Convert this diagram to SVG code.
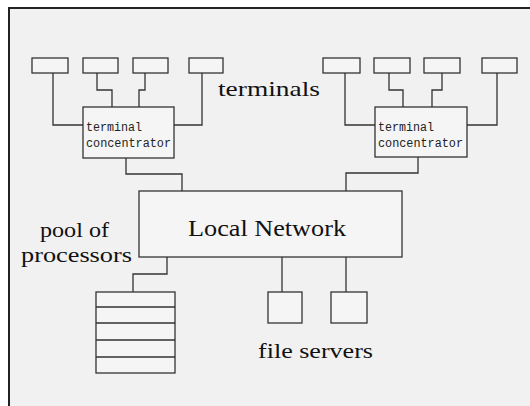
<svg xmlns="http://www.w3.org/2000/svg" width="530" height="406" viewBox="0 0 530 406">
<style>
.bg{fill:#f1f1f1}
.frame{fill:none;stroke:#222;stroke-width:2}
.box{fill:#f5f5f5;stroke:#333;stroke-width:1.3}
.ln{fill:none;stroke:#333;stroke-width:1.3}
.mono{font-family:"Liberation Mono","DejaVu Sans Mono",monospace;font-size:12.5px;fill:#222}
.serif{font-family:"Liberation Serif","DejaVu Serif",serif;fill:#111}
</style>
<rect x="0" y="0" width="530" height="406" fill="#fff"/>
<rect class="bg" x="9" y="8" width="530" height="410"/>
<path class="frame" d="M9,406 V8 H530"/>
<g id="connectors">
<path class="ln" d="M53,73 V125 H83"/>
<path class="ln" d="M97,73 V90 H112 V107"/>
<path class="ln" d="M145,73 V90 H139 V107"/>
<path class="ln" d="M202,73 V125 H174"/>
<path class="ln" d="M345,73 V125 H375"/>
<path class="ln" d="M389,73 V90 H403 V107"/>
<path class="ln" d="M442,73 V90 H432 V107"/>
<path class="ln" d="M497,73 V125 H467"/>
<path class="ln" d="M126,158 V174 H182 V191"/>
<path class="ln" d="M418,157 V173 H346 V191"/>
<path class="ln" d="M167,257 V274 H133 V292"/>
<path class="ln" d="M282,257 V292"/>
<path class="ln" d="M346,257 V292"/>
</g>
<g id="t1"><rect class="box" x="32" y="58" width="36" height="15"/></g>
<g id="t2"><rect class="box" x="83" y="58" width="35" height="15"/></g>
<g id="t3"><rect class="box" x="133" y="58" width="35" height="15"/></g>
<g id="t4"><rect class="box" x="189" y="58" width="34" height="15"/></g>
<g id="t5"><rect class="box" x="323" y="58" width="37" height="15"/></g>
<g id="t6"><rect class="box" x="374" y="58" width="36" height="15"/></g>
<g id="t7"><rect class="box" x="424" y="58" width="36" height="15"/></g>
<g id="t8"><rect class="box" x="482" y="58" width="35" height="15"/></g>
<g id="conc1">
<rect class="box" x="83" y="107" width="91" height="51"/>
<text class="mono" x="86" y="131" textLength="56" lengthAdjust="spacingAndGlyphs">terminal</text>
<text class="mono" x="86" y="147" textLength="85" lengthAdjust="spacingAndGlyphs">concentrator</text>
</g>
<g id="conc2">
<rect class="box" x="375" y="107" width="92" height="50"/>
<text class="mono" x="378" y="131" textLength="56" lengthAdjust="spacingAndGlyphs">terminal</text>
<text class="mono" x="378" y="147" textLength="85" lengthAdjust="spacingAndGlyphs">concentrator</text>
</g>
<g id="network">
<rect class="box" x="139" y="191" width="263" height="66"/>
<text class="serif" x="188" y="236" font-size="23" textLength="158" lengthAdjust="spacingAndGlyphs">Local Network</text>
</g>
<g id="processors">
<rect class="box" x="96" y="292" width="79" height="81"/>
<path class="ln" d="M96,307 H175 M96,323 H175 M96,340 H175 M96,357 H175"/>
</g>
<g id="fs1"><rect class="box" x="268" y="292" width="34" height="31"/></g>
<g id="fs2"><rect class="box" x="331" y="292" width="36" height="31"/></g>
<g id="labels">
<text class="serif" x="218" y="96" font-size="21" textLength="102" lengthAdjust="spacingAndGlyphs">terminals</text>
<text class="serif" x="40" y="237" font-size="21" textLength="69" lengthAdjust="spacingAndGlyphs">pool of</text>
<text class="serif" x="21" y="262" font-size="21" textLength="111" lengthAdjust="spacingAndGlyphs">processors</text>
<text class="serif" x="258" y="358" font-size="21" textLength="115" lengthAdjust="spacingAndGlyphs">file servers</text>
</g>
</svg>
